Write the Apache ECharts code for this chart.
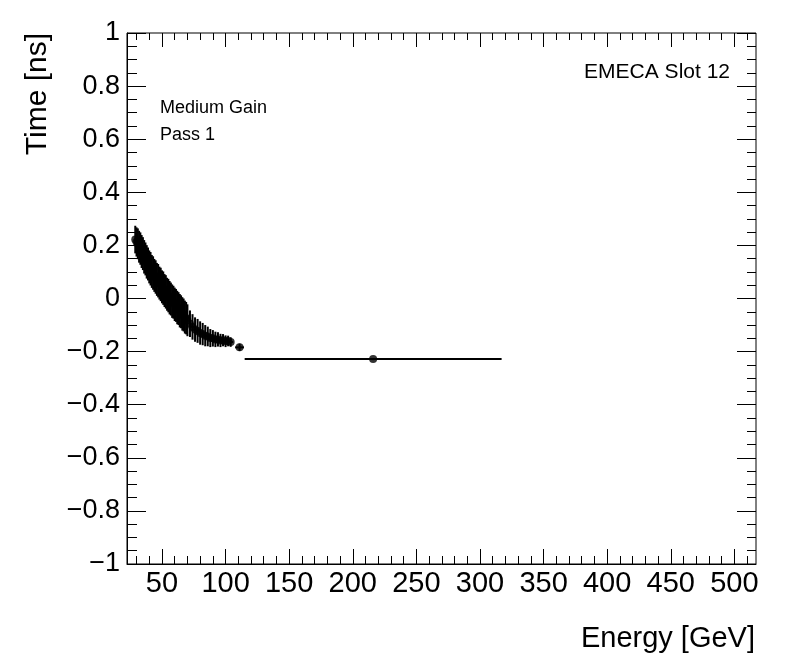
<!DOCTYPE html>
<html>
<head>
<meta charset="utf-8">
<script src="https://cdn.jsdelivr.net/npm/echarts@6/dist/echarts.min.js"></script>
<style>
  html, body { margin: 0; padding: 0; background: #fff; }
  #chart { width: 796px; height: 672px; }
</style>
</head>
<body>
<div id="chart"></div>
<script>
// energy bins (GeV) and mean time (ns) with errors
var energy = [29, 30, 31, 32, 33, 34, 35, 36, 37, 38, 39, 40, 41, 42, 43, 44, 45, 46, 47, 48, 49,
    50, 51, 52, 53, 54, 55, 56, 57, 58, 59, 60, 61, 62, 63, 64, 65, 66, 67, 68, 69, 70,
    72, 74, 76, 78, 80, 82, 84, 86, 88, 90, 92, 94, 96, 98, 100, 102, 104, 111, 216]
var time = [0.222, 0.213, 0.206, 0.195, 0.188, 0.177, 0.169, 0.157, 0.149, 0.138, 0.130, 0.119, 0.112, 0.102, 0.096, 0.087, 0.081, 0.072, 0.067, 0.058, 0.053,
    0.044, 0.039, 0.030, 0.025, 0.016, 0.011, 0.003, -0.002, -0.010, -0.014, -0.022, -0.026, -0.034, -0.038, -0.046, -0.050, -0.058, -0.062, -0.070, -0.074, -0.082,
    -0.095, -0.107, -0.117, -0.122, -0.130, -0.134, -0.140, -0.143, -0.149, -0.150, -0.154, -0.154, -0.158, -0.157, -0.161, -0.160, -0.164, -0.184, -0.228]
var timeErr = [0.052, 0.055, 0.058, 0.060, 0.061, 0.062, 0.062, 0.063, 0.062, 0.063, 0.062, 0.062, 0.063, 0.062, 0.063, 0.062, 0.063, 0.062, 0.063, 0.062, 0.063,
    0.062, 0.063, 0.062, 0.063, 0.062, 0.063, 0.063, 0.062, 0.063, 0.062, 0.063, 0.062, 0.063, 0.062, 0.063, 0.062, 0.063, 0.062, 0.062, 0.061, 0.060,
    0.050, 0.048, 0.046, 0.045, 0.044, 0.042, 0.040, 0.037, 0.034, 0.031, 0.029, 0.027, 0.025, 0.023, 0.022, 0.020, 0.018, 0.014, 0.004]
var energyErr = [0.5, 0.5, 0.5, 0.5, 0.5, 0.5, 0.5, 0.5, 0.5, 0.5, 0.5, 0.5, 0.5, 0.5, 0.5, 0.5, 0.5, 0.5, 0.5, 0.5, 0.5,
    0.5, 0.5, 0.5, 0.5, 0.5, 0.5, 0.5, 0.5, 0.5, 0.5, 0.5, 0.5, 0.5, 0.5, 0.5, 0.5, 0.5, 0.5, 0.5, 0.5, 0.5,
    1, 1, 1, 1, 1, 1, 1, 1, 1, 1, 1, 1, 1, 1, 1, 1, 2, 3.5, 101]

// axis ticks
var xMajorTicks = [50, 100, 150, 200, 250, 300, 350, 400, 450, 500]
var xMinorTicks = [30, 40, 60, 70, 80, 90, 110, 120, 130, 140, 160, 170, 180, 190, 210, 220, 230, 240,
    260, 270, 280, 290, 310, 320, 330, 340, 360, 370, 380, 390, 410, 420, 430, 440, 460, 470, 480, 490, 510]
var yMajorTicks = [-1, -0.8, -0.6, -0.4, -0.2, 0, 0.2, 0.4, 0.6, 0.8, 1]
var yMinorTicks = [-0.95, -0.9, -0.85, -0.75, -0.7, -0.65, -0.55, -0.5, -0.45, -0.35, -0.3, -0.25,
    -0.15, -0.1, -0.05, 0.05, 0.1, 0.15, 0.25, 0.3, 0.35, 0.45, 0.5, 0.55, 0.65, 0.7, 0.75, 0.85, 0.9, 0.95]

var FONT = "'Liberation Sans', Arial, Helvetica, sans-serif"
var xMin = 22.5, xMax = 517

var points = energy.map(function (e, i) {
    return [e, time[i], timeErr[i], energyErr[i]]
})

function xAx(pos, ticks, len, labels) {
    return {
        type: 'value', min: xMin, max: xMax, position: pos, gridIndex: 0,
        axisLine: { show: labels, onZero: false, lineStyle: { color: '#000', width: 1 } },
        axisTick: { show: true, inside: true, length: len, customValues: ticks, lineStyle: { color: '#000', width: 1 } },
        axisLabel: labels ? { show: true, customValues: ticks, color: '#000', fontSize: 29, fontFamily: FONT, margin: 5 } : { show: false },
        splitLine: { show: false }
    }
}
function yAx(pos, ticks, len, labels) {
    return {
        type: 'value', min: -1, max: 1, position: pos, gridIndex: 0,
        axisLine: { show: labels, onZero: false, lineStyle: { color: '#000', width: 1 } },
        axisTick: { show: true, inside: true, length: len, customValues: ticks, lineStyle: { color: '#000', width: 1 } },
        axisLabel: labels ? {
            show: true, customValues: ticks, color: '#000', fontSize: 27, fontFamily: FONT, margin: 7,
            formatter: function (v) { return String(Math.round(v * 10) / 10).replace('-', '\u2212') }
        } : { show: false },
        splitLine: { show: false }
    }
}

var chart = echarts.init(document.getElementById('chart'))
var option = {
    animation: false,
    backgroundColor: '#fff',
    grid: { left: 127, right: 40, top: 33, bottom: 108, show: true, borderColor: '#000', borderWidth: 1, backgroundColor: 'transparent' },
    xAxis: [
        xAx('bottom', xMajorTicks, 15, true),
        xAx('bottom', xMinorTicks, 8, false),
        xAx('top', xMajorTicks, 14, false),
        xAx('top', xMinorTicks, 7, false)
    ],
    yAxis: [
        yAx('left', yMajorTicks, 19, true),
        yAx('left', yMinorTicks, 10, false),
        yAx('right', yMajorTicks, 19, false),
        yAx('right', yMinorTicks, 9, false)
    ],
    series: [{
        type: 'custom',
        xAxisIndex: 0, yAxisIndex: 0,
        clip: true,
        data: points,
        renderItem: function (params, api) {
            var x = api.value(0), y = api.value(1), ey = api.value(2), ex = api.value(3)
            var top = api.coord([x, y + ey]), bot = api.coord([x, y - ey])
            var lft = api.coord([x - ex, y]), rgt = api.coord([x + ex, y])
            var st = { stroke: '#000', lineWidth: 2 }
            return {
                type: 'group',
                children: [
                    { type: 'line', shape: { x1: top[0], y1: top[1], x2: bot[0], y2: bot[1] }, style: st },
                    { type: 'line', shape: { x1: lft[0], y1: lft[1], x2: rgt[0], y2: rgt[1] }, style: st }
                ]
            }
        },
        z: 2
    }, {
        type: 'scatter',
        xAxisIndex: 0, yAxisIndex: 0,
        data: points.map(function (p) { return [p[0], p[1]] }),
        symbol: 'circle',
        symbolSize: 8,
        itemStyle: { color: '#000' },
        z: 3
    }],
    graphic: [
        { type: 'text', x: 755, y: 639, style: { text: 'Energy [GeV]', font: '29px ' + FONT, fill: '#000', align: 'right', verticalAlign: 'middle' } },
        { type: 'text', x: 38, y: 33, rotation: Math.PI / 2, style: { text: 'Time [ns]', font: '30px ' + FONT, fill: '#000', align: 'right', verticalAlign: 'middle' } },
        { type: 'text', x: 160, y: 108, style: { text: 'Medium Gain', font: '18px ' + FONT, fill: '#000', align: 'left', verticalAlign: 'middle' } },
        { type: 'text', x: 160, y: 135, style: { text: 'Pass 1', font: '18px ' + FONT, fill: '#000', align: 'left', verticalAlign: 'middle' } },
        { type: 'text', x: 730, y: 72, style: { text: 'EMECA Slot 12', font: '21px ' + FONT, fill: '#000', align: 'right', verticalAlign: 'middle' } }
    ]
}
chart.setOption(option)
</script>
</body>
</html>
